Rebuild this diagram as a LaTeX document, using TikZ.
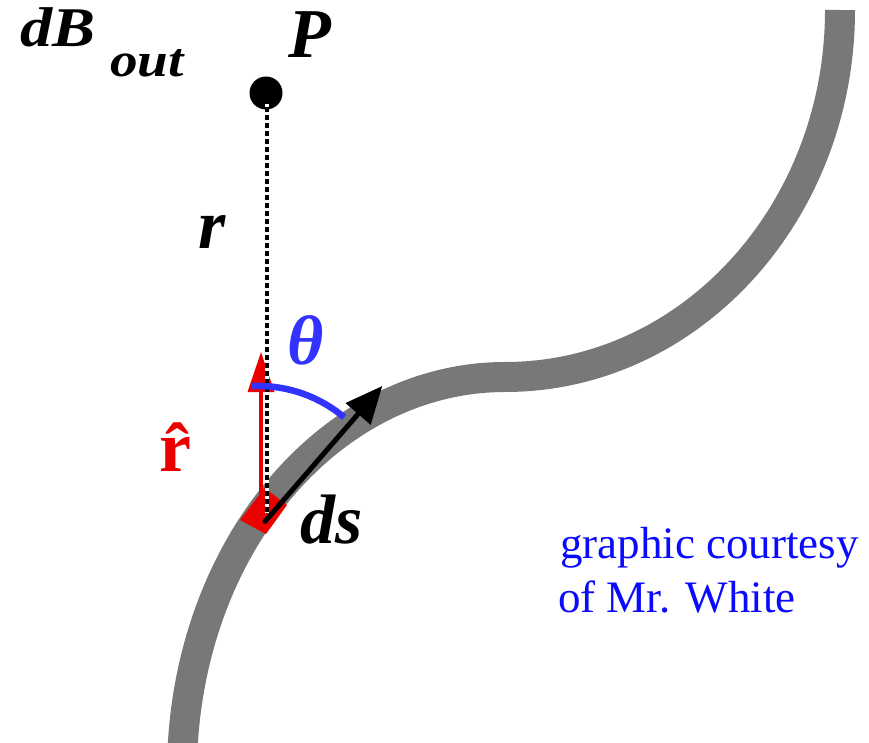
\documentclass[tikz,border=0pt]{standalone}
\usepackage{fontspec}
\setmainfont{Liberation Serif}
\newfontfamily\widefont[FakeStretch=1.15]{Liberation Serif}
\usetikzlibrary{arrows.meta}
\definecolor{wire}{RGB}{120,120,120}
\definecolor{thetablue}{RGB}{51,51,255}
\definecolor{creditblue}{RGB}{10,10,255}
\definecolor{rhatred}{RGB}{235,0,0}
\begin{document}
\begin{tikzpicture}[x=1pt,y=-1pt,
  lbl/.style={inner sep=0pt, anchor=base west, font=\fontsize{70}{72}\selectfont\bfseries\itshape},
  wirestyle/.style={draw=wire, line width=30pt},
  credit/.style={inner sep=0pt, anchor=base west, text=creditblue, font=\fontsize{45}{50}\selectfont},
  dotstyle/.style={circle, fill=black, minimum size=33pt, inner sep=0pt}]
\useasboundingbox (0,0) rectangle (869,743);
\clip (0,0) rectangle (869,743);
% named points
\coordinate (junction) at (505,377);
\coordinate (rtail) at (261,514);
\coordinate (rtip) at (261,352);
\coordinate (dtop) at (266.5,99);
\coordinate (dbot) at (266.5,513);
\coordinate (tail) at (265,521.5);
\coordinate (dstip) at (382.3,386);
\coordinate (thS) at (252.2,386.1);
\coordinate (sq1) at (240,520);
\coordinate (sq2) at (264.5,488);
\coordinate (sq3) at (287,505);
\coordinate (sq4) at (266,534);
% wire
\draw[wirestyle] (junction) arc[start angle=270, end angle=172, x radius=323, y radius=395];
\draw[wirestyle] (junction) arc[start angle=90, end angle=0, x radius=335, y radius=367];
% point P
\node[dotstyle] (Pdot) at (266,93) {};
% red element and unit vector
\fill[rhatred] (sq1) -- (sq2) -- (sq3) -- (sq4) -- cycle;
\draw[rhatred, line width=3.5pt, -{Triangle[length=40pt,width=26pt]}] (rtail) -- (rtip);
% dashed r line
\draw[white, line width=4pt] (dtop) -- (dbot);
\draw[black, line width=4pt, dash pattern=on 5pt off 3pt] (dtop) -- (dbot);
% theta arc
\draw[thetablue, line width=6.5pt] (thS) arc[start angle=-92.5, end angle=-50, radius=134];
% ds arrow
\draw[black, line width=5pt, line cap=round, -{Triangle[length=37pt,width=32pt]}] (tail) -- (dstip);
% labels
\node[inner sep=0pt, anchor=base west, font=\widefont\fontsize{56}{58}\selectfont\bfseries\itshape] (dB) at (20,47) {dB};
\node[inner sep=0pt, anchor=base west, font=\widefont\fontsize{48}{50}\selectfont\bfseries\itshape] (out) at (110,77) {out};
\node[lbl] (P) at (288,58) {P};
\node[lbl] (r) at (198,248) {r};
\node[lbl, text=thetablue] (theta) at (287,364) {θ};
\node[lbl, text=rhatred, font=\fontsize{72}{74}\selectfont\bfseries] (rhat) at (159,471) {\^{r}};
\node[lbl] (ds) at (300,543) {ds};
\node[credit] (credit1) at (560,558) {graphic courtesy};
\node[credit] (credit2) at (558,612) {of Mr. White};
\end{tikzpicture}
\end{document}
